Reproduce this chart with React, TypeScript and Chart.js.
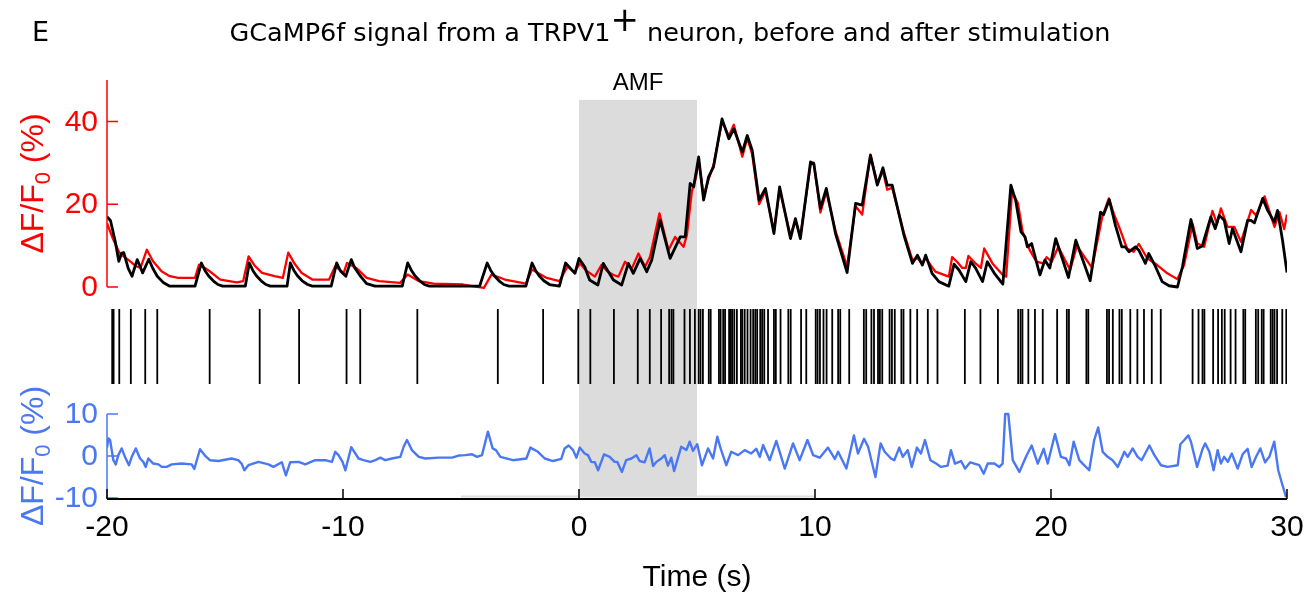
import React, { useEffect, useRef } from "react";
import { Chart, registerables } from "chart.js";
Chart.register(...registerables);

// ---- axis ticks ----
const xTicks = [-20, -10, 0, 10, 20, 30];
const topTicks = [0, 20, 40];
const bottomTicks = [10, 0, -10];

// ---- stimulation window (s) and the faint baseline bar ----
const stimWindow = [0, 5];
const baselineBarT = [-5, 10];
const baselineBarV = [-9.65, -9.65];

// ---- black trace (top panel) ----
const blackT = [
  -20, -19.85, -19.65, -19.5, -19.38, -19.29, -19.1, -18.94, -18.72, -18.6, -18.49, -18.23, -18.05,
  -17.87, -17.6, -17.34,
  -16.27, -16.0, -15.85, -15.7, -15.5, -15.3, -15.1,
  -14.14, -13.97, -13.82, -13.67, -13.47, -13.27, -13.08,
  -12.37, -12.23, -12.08, -11.93, -11.73, -11.5, -11.3,
  -10.5, -10.27, -10.1, -9.88, -9.65, -9.5, -9.26, -9.0, -8.64,
  -7.49, -7.26, -7.1, -6.95, -6.75, -6.55, -6.34,
  -4.21, -3.89, -3.74, -3.59, -3.39, -3.19, -2.96,
  -2.25, -1.99, -1.84, -1.69, -1.49, -1.25, -0.83,
  -0.57, -0.17, 0.0, 0.24, 0.45,
  0.8, 1.03, 1.46, 1.81, 2.09, 2.3, 2.59, 2.87, 3.08, 3.44, 3.86, 4.29, 4.5, 4.71, 4.86, 5.07, 5.28,
  5.49, 5.7, 6.06, 6.35, 6.56, 6.92, 7.13, 7.34, 7.63, 7.9, 8.26, 8.5, 8.96, 9.17, 9.38, 9.81, 9.95,
  10.23, 10.48, 10.87, 11.36, 11.72, 12.0, 12.35, 12.64, 12.88, 13.06, 13.27, 13.77, 14.13, 14.34,
  14.55, 14.69, 14.96, 15.25, 15.67, 15.89, 16.1, 16.39, 16.6, 16.8, 17.1, 17.3, 17.6, 17.96, 18.3,
  18.5, 18.73, 18.9, 19.0, 19.18, 19.53, 19.74, 19.95, 20.2, 20.74, 21.05, 21.66, 22.1, 22.23, 22.47,
  22.73, 23.0, 23.15, 23.3, 23.58, 23.72, 24.0, 24.14, 24.43, 24.71, 25.0, 25.36, 25.57, 25.93, 26.2,
  26.41, 26.77, 26.96, 27.13, 27.34, 27.55, 27.69, 28.05, 28.33, 28.47, 28.62, 28.97, 29.18, 29.46,
  29.6, 29.81, 30.0,
];
const blackV = [
  17.0, 16.0, 11.0, 6.2, 8.2, 8.3, 4.5, 2.6, 6.6, 5.0, 3.4, 6.7, 4.4,
  2.6, 1.0, 0.2,
  0.2, 5.8, 4.0, 2.7, 1.5, 0.6, 0.2,
  0.2, 5.8, 4.0, 2.7, 1.5, 0.6, 0.2,
  0.2, 5.8, 4.0, 2.7, 1.5, 0.6, 0.2,
  0.2, 5.8, 3.8, 2.6, 6.6, 4.6, 2.6, 0.8, 0.2,
  0.2, 5.8, 4.0, 2.7, 1.5, 0.6, 0.2,
  0.2, 5.8, 4.0, 2.7, 1.5, 0.6, 0.2,
  0.2, 5.8, 4.0, 2.7, 1.5, 0.6, 0.2,
  5.8, 3.3, 6.9, 4.9, 1.7,
  0.5, 5.7, 1.7, 0.5, 5.7, 3.3, 6.9, 3.7, 6.5, 16.1, 6.9, 12.1, 12.1, 25.0, 24.2, 31.4, 21.0,
  26.6, 29.0, 40.6, 35.8, 38.2, 32.6, 36.6, 33.0, 21.0, 23.8, 12.9, 24.2, 11.7, 16.5, 11.7, 30.2, 29.8,
  19.0, 23.8, 12.9, 3.5, 20.2, 19.8, 31.8, 24.6, 28.8, 24.6, 24.6, 12.5, 5.7, 7.7,
  5.3, 7.7, 3.3, 1.3, 0.2, 5.5, 4.1, 1.3, 6.1, 4.6, 1.3, 6.1, 3.3, 0.7, 24.6,
  21.0, 13.3, 12.1, 9.7, 10.5, 2.9, 6.5, 4.6, 11.7, 2.3, 11.3, 1.5, 18.1, 17.5, 21.1,
  14.9, 9.7, 9.7, 8.5, 9.7, 8.9, 5.7, 8.1, 4.9, 1.3, 0.3, 0.0, 4.9, 16.3, 9.3,
  9.9, 16.9, 14.1, 17.3, 16.1, 10.5, 14.1, 8.5, 16.1, 16.1, 15.5, 21.4, 18.5, 15.7,
  18.5, 11.3, 3.5,
];

// ---- red trace (top panel) ----
const redT = [
  -20, -19.73, -19.47, -19.11, -18.76, -18.58, -18.31, -18.05, -17.69, -17.34, -16.98, -16.27, -16.1,
  -15.85, -15.65, -15.2, -14.5, -14.23, -14.0, -13.75, -13.43, -12.9, -12.55, -12.32, -12.05, -11.75,
  -11.3, -10.59, -10.33, -9.97, -9.83, -9.44, -9.0, -8.47, -7.58, -7.26, -6.78, -6.16, -4.92, -4.03,
  -3.71, -3.14, -2.25, -1.99, -1.37, -0.83, -0.48, -0.2, 0.04, 0.3, 0.67, 0.95, 1.2, 1.46, 1.67, 1.95,
  2.24, 2.52, 2.8, 3.01, 3.41, 3.79, 4.07, 4.43, 4.57, 4.78, 4.96, 5.07, 5.28, 5.49, 5.7, 6.06, 6.35,
  6.56, 6.92, 7.13, 7.34, 7.63, 7.9, 8.26, 8.5, 8.96, 9.17, 9.38, 9.81, 9.95, 10.23, 10.48, 10.87,
  11.36, 11.72, 12.0, 12.35, 12.64, 12.88, 13.06, 13.27, 13.77, 14.13, 14.34, 14.55, 14.68, 15.1,
  15.67, 15.81, 16.02, 16.24, 16.39, 16.5, 16.8, 17.03, 17.17, 17.52, 17.96, 18.1, 18.35, 18.6, 18.8,
  19.1, 19.38, 19.67, 19.81, 20.03, 20.31, 20.81, 21.1, 21.74, 22.17, 22.45, 22.66, 22.94, 23.22,
  23.5, 23.72, 24.07, 24.5, 24.93, 25.35, 25.64, 26.0, 26.2, 26.49, 26.84, 27.03, 27.2, 27.48, 27.77,
  28.05, 28.48, 28.69, 29.05, 29.47, 29.68, 29.88, 30.0,
];
const redV = [
  15.4, 11.4, 8.2, 6.6, 5.0, 4.6, 9.0, 6.2, 3.8, 2.6, 2.2, 2.2, 5.4,
  4.6, 3.8, 1.8, 1.1, 1.4, 7.4, 5.2, 3.4, 2.6, 2.2, 8.3, 5.6, 3.4,
  1.8, 1.8, 5.0, 3.4, 5.8, 4.6, 2.2, 1.4, 1.0, 3.0, 1.4, 0.8, 0.6, -0.2,
  3.0, 1.8, 0.8, 4.2, 2.2, 1.4, 5.0, 3.5, 5.7, 4.0, 2.5, 5.3, 3.8, 2.9, 2.5, 6.1,
  4.5, 8.1, 4.9, 7.3, 17.8, 8.9, 12.1, 9.7, 12.5, 23.0, 26.6, 30.5, 22.0, 26.0, 29.5, 40.0, 36.5,
  39.2, 31.5, 36.0, 32.0, 20.0, 23.2, 13.5, 23.5, 12.5, 16.0, 12.2, 29.5, 30.0, 18.0, 23.0, 13.5,
  5.0, 19.5, 17.5, 32.0, 25.0, 28.0, 23.5, 24.0, 13.0, 6.5, 7.0, 5.5, 7.0, 3.7,
  2.5, 7.2, 6.1, 4.6, 4.6, 7.5, 5.7, 4.6, 9.3, 5.7, 2.9, 2.5, 23.0, 20.2, 13.3,
  8.9, 6.1, 5.7, 7.2, 6.1, 9.7, 4.1, 9.9, 4.6, 16.9, 21.4, 17.7, 13.7, 9.3,
  8.5, 10.4, 7.0, 5.3, 3.3, 1.9, 5.3, 15.3, 10.5, 9.7, 18.4, 15.3, 19.0, 14.5, 14.5,
  10.9, 18.6, 17.3, 21.9, 14.5, 18.1, 14.0, 17.5,
];

// ---- blue trace (bottom panel) ----
const blueT = [
  -20, -19.94, -19.87, -19.73, -19.63, -19.52, -19.38, -19.24, -19.07, -18.95, -18.78, -18.6, -18.46,
  -18.36, -18.25, -18.04, -17.82, -17.68, -17.47, -17.26, -16.84, -16.41, -16.3, -16.06, -15.85,
  -15.64, -15.28, -14.72, -14.44, -14.3, -14.18, -14.01, -13.58, -13.16, -12.95, -12.59, -12.42,
  -12.24, -11.88, -11.6, -11.18, -10.75, -10.47, -10.33, -10.19, -10.02, -9.9, -9.65, -9.34, -9.13,
  -8.84, -8.63, -8.42, -8.21, -7.93, -7.57, -7.43, -7.29, -7.08, -6.79, -6.51, -5.95, -5.38, -5.1,
  -4.82, -4.53, -4.32, -4.11, -3.86, -3.66, -3.52, -3.33, -2.8, -2.23, -2.06, -1.74, -1.45, -1.1,
  -0.75, -0.61, -0.44, -0.25, -0.11, 0.03, 0.24, 0.38, 0.52, 0.67, 0.81, 1.06, 1.3, 1.51, 1.62, 1.82,
  2.0, 2.22, 2.43, 2.57, 2.78, 2.99, 3.14, 3.28, 3.49, 3.63, 3.77, 3.91, 4.03, 4.33, 4.55, 4.69, 4.83,
  5.01, 5.21, 5.47, 5.68, 5.86, 6.0, 6.24, 6.45, 6.74, 7.02, 7.3, 7.51, 7.66, 7.8, 8.08, 8.36, 8.72,
  9.07, 9.35, 9.68, 9.92, 10.2, 10.55, 10.84, 10.98, 11.33, 11.65, 11.82, 12.08, 12.25, 12.56, 12.78,
  12.95, 13.22, 13.36, 13.57, 13.72, 13.93, 14.1, 14.32, 14.49, 14.66, 14.89, 15.13, 15.34, 15.62,
  15.76, 15.93, 16.19, 16.36, 16.58, 16.96, 17.15, 17.32, 17.6, 17.81, 17.95, 18.06, 18.19, 18.38,
  18.66, 18.94, 19.18, 19.44, 19.69, 19.86, 20.17, 20.42, 20.64, 20.78, 20.96, 21.2, 21.34, 21.62,
  21.83, 22.0, 22.19, 22.4, 22.61, 22.83, 23.11, 23.25, 23.46, 23.67, 23.84, 24.17, 24.38, 24.66,
  24.94, 25.37, 25.48, 25.65, 25.82, 25.93, 26.19, 26.43, 26.53, 26.71, 26.89, 27.06, 27.2, 27.34,
  27.49, 27.66, 27.91, 28.12, 28.33, 28.5, 28.69, 28.87, 29.07, 29.25, 29.46, 29.63, 29.77, 29.96,
];
const blueV = [
  2.0, 4.2, 3.8, -1.0, -2.0, 0.2, 1.8, -0.2, -2.2, -0.2, 1.8, -0.6, -1.4,
  -2.6, -0.6, -1.8, -2.0, -2.6, -2.6, -2.0, -1.8, -2.0, -3.1, 1.6, 0.1,
  -1.0, -1.2, -0.6, -1.0, -1.8, -3.4, -2.2, -1.4, -2.0, -2.6, -1.5, -4.6,
  -1.5, -1.4, -2.0, -1.0, -1.0, -1.4, 1.0, 0.2, -1.4, -3.4, 2.1, -0.6, -1.0,
  -1.4, -1.0, -0.4, -1.0, -0.6, -0.2, 2.2, 3.8, 1.4, -0.2, -0.6, -0.4, -0.4, 0.1,
  0.2, 0.4, -0.2, 0.2, 5.8, 1.8, 1.4, -0.2, -1.0, -0.6, 2.0, 1.0, -0.6, -1.2,
  -0.7, 1.8, 2.5, 1.4, -0.4, 2.0, 0.6, 0.2, -1.4, -1.5, -3.4, 0.4, -0.2, -1.4, -1.4, -3.8,
  -1.0, -0.6, 0.2, -1.2, -1.5, 1.8, -2.4, -1.4, -0.6, 0.2, -2.3, -0.4, -3.6, 2.2, 1.4, 3.4, 1.2,
  2.8, -2.2, 1.8, -0.6, 4.6, 1.8, -2.2, 1.0, 0.2, 1.4, 0.6, 1.7, -0.2, 2.6, -1.0, 3.6, -3.0,
  3.0, -1.0, 3.8, 0.2, -0.4, 2.0, -0.7, 1.0, -3.0, 4.9, 0.6, 4.1, 2.2, -5.0, 3.0,
  1.0, -0.6, -1.0, 2.0, -0.2, 1.4, -2.6, 2.0, 0.6, 3.8, -1.0, -1.8, -2.6, -2.3,
  1.4, -1.8, -1.2, -3.0, -1.5, -2.2, -4.2, -1.8, -1.8, -2.6, -1.8, 10.0, 10.0, -1.0,
  -3.8, -0.2, 2.5, -1.8, 1.7, -1.8, 5.2, -0.2, -0.6, -2.2, 3.4, -1.0, -1.8, -3.4,
  3.8, 6.8, 1.0, -0.2, -1.0, -2.6, 1.0, -0.2, 1.8, -0.2, -1.0, 2.5, 0.2, -2.2,
  -2.6, -2.2, 2.8, 3.8, 4.9, 3.4, -2.6, 1.8, 3.0, 1.0, -3.4, 1.4, -1.8, -0.2,
  -1.4, 0.6, -3.0, 0.4, 1.7, -2.6, -0.2, 1.8, -1.5, -0.2, 3.4, -3.4, -6.2, -9.8,
];

// ---- spike raster (s) ----
const spikeTimes = [
  -19.78, -19.72, -19.48, -18.99, -18.38, -17.87, -15.65, -13.53, -11.86, -9.85, -9.27, -6.85, -3.44,
  -1.52, -0.03, 0.48, 1.48, 2.49, 3.0, 3.48, 3.82, 3.92, 4.0, 4.47, 4.7, 4.91, 5.07, 5.15, 5.25, 5.5,
  5.58, 5.93, 6.0, 6.11, 6.19, 6.36, 6.43, 6.49, 6.58, 6.69, 6.86, 6.92, 7.02, 7.14, 7.27, 7.38, 7.47,
  7.55, 7.68, 7.76, 7.85, 8.01, 8.26, 8.34, 8.54, 8.87, 8.97, 9.41, 9.63, 10.03, 10.11, 10.21, 10.36,
  10.49, 10.73, 10.98, 11.07, 11.45, 12.07, 12.17, 12.39, 12.5, 12.67, 12.75, 12.85, 13.16, 13.26,
  13.38, 13.66, 13.75, 14.04, 14.33, 14.78, 15.19, 16.35, 17.01, 17.75, 18.61, 18.71, 18.79, 19.04,
  19.32, 19.65, 20.26, 20.67, 20.76, 21.5, 21.58, 22.37, 22.46, 22.62, 22.9, 23.0, 23.36, 23.66,
  23.94, 24.27, 24.65, 26.0, 26.25, 26.42, 26.5, 26.87, 27.08, 27.24, 27.36, 27.61, 27.82, 28.15,
  28.23, 28.68, 28.78, 28.93, 29.01, 29.31, 29.39, 29.47, 29.58, 29.8, 29.97,
];

const RED = "#ff0000";
const BLUE = "#4a78f2";
const SANS = '"Liberation Sans", Arial, Helvetica, sans-serif';
const VERD = '"DejaVu Sans", Verdana, sans-serif';

const pts = (t: number[], v: number[]) => t.map((x, i) => ({ x, y: v[i] }));

function drawDeltaLabel(ctx: CanvasRenderingContext2D, cx: number, cy: number, color: string, size: number) {
  ctx.save();
  ctx.translate(cx, cy);
  ctx.rotate(-Math.PI / 2);
  const main = `${size}px ${SANS}`;
  const sub = `${Math.round(size * 0.7)}px ${SANS}`;
  ctx.font = main;
  const a = "\u0394F/F";
  const c = " (%)";
  const wa = ctx.measureText(a).width;
  const wc = ctx.measureText(c).width;
  ctx.font = sub;
  const b = "0";
  const wb = ctx.measureText(b).width;
  const total = wa + wb + wc;
  let x = -total / 2;
  ctx.fillStyle = color;
  ctx.textBaseline = "alphabetic";
  ctx.textAlign = "left";
  const base = size * 0.36;
  ctx.font = main;
  ctx.fillText(a, x, base);
  x += wa;
  ctx.font = sub;
  ctx.fillText(b, x, base + size * 0.22);
  x += wb;
  ctx.font = main;
  ctx.fillText(c, x, base);
  ctx.restore();
}

const decor = {
  id: "decor",
  beforeDatasetsDraw(chart: any) {
    const { ctx, scales } = chart;
    const x = scales.x;
    const yT = scales.yTop;
    const yB = scales.yBot;
    ctx.save();
    ctx.fillStyle = "#dcdcdc";
    const x0 = x.getPixelForValue(stimWindow[0]);
    const x1 = x.getPixelForValue(stimWindow[1]);
    const top = yT.getPixelForValue(45.2);
    const bot = yB.getPixelForValue(-9.7);
    ctx.fillRect(x0, top, x1 - x0, bot - top);
    ctx.restore();
  },
  afterDraw(chart: any) {
    const { ctx, scales } = chart;
    const x = scales.x;
    const yT = scales.yTop;
    const yB = scales.yBot;
    const xl = x.getPixelForValue(-20);
    ctx.save();
    // top (red) axis
    ctx.strokeStyle = RED;
    ctx.lineWidth = 1.5;
    ctx.beginPath();
    ctx.moveTo(xl, yT.getPixelForValue(0));
    ctx.lineTo(xl, yT.getPixelForValue(50));
    topTicks.forEach((v) => {
      const p = yT.getPixelForValue(v);
      ctx.moveTo(xl, p);
      ctx.lineTo(xl + 11, p);
    });
    ctx.stroke();
    ctx.fillStyle = RED;
    ctx.font = `30px ${SANS}`;
    ctx.textAlign = "right";
    ctx.textBaseline = "middle";
    topTicks.forEach((v) => ctx.fillText(String(v), xl - 9, yT.getPixelForValue(v) + 1));
    // bottom (blue) axis
    ctx.strokeStyle = BLUE;
    ctx.beginPath();
    ctx.moveTo(xl, yB.getPixelForValue(-10));
    ctx.lineTo(xl, yB.getPixelForValue(10));
    bottomTicks.forEach((v) => {
      const p = yB.getPixelForValue(v);
      ctx.moveTo(xl, p);
      ctx.lineTo(xl + 11, p);
    });
    ctx.stroke();
    ctx.fillStyle = BLUE;
    bottomTicks.forEach((v) => ctx.fillText(String(v), xl - 9, yB.getPixelForValue(v) + 1));
    // x axis
    const xb = chart.chartArea.bottom;
    ctx.strokeStyle = "#000";
    ctx.lineWidth = 2;
    ctx.beginPath();
    ctx.moveTo(x.getPixelForValue(-20), xb);
    ctx.lineTo(x.getPixelForValue(30), xb);
    ctx.stroke();
    ctx.lineWidth = 1.5;
    ctx.beginPath();
    xTicks.forEach((t) => {
      const p = x.getPixelForValue(t);
      ctx.moveTo(p, xb);
      ctx.lineTo(p, xb - 10);
    });
    ctx.stroke();
    ctx.fillStyle = "#000";
    ctx.textAlign = "center";
    ctx.textBaseline = "middle";
    xTicks.forEach((t) => ctx.fillText(String(t), x.getPixelForValue(t), xb + 29));
    ctx.fillText("Time (s)", (x.left + x.right) / 2, xb + 79);
    // AMF label
    ctx.font = `24px ${SANS}`;
    ctx.fillText("AMF", x.getPixelForValue((stimWindow[0] + stimWindow[1]) / 2), 83);
    // y titles
    drawDeltaLabel(ctx, 31, (yT.getPixelForValue(0) + yT.getPixelForValue(50)) / 2, RED, 32);
    drawDeltaLabel(ctx, 31, yB.getPixelForValue(0), BLUE, 32);
    // panel letter & title
    ctx.fillStyle = "#000";
    ctx.textAlign = "left";
    ctx.textBaseline = "alphabetic";
    ctx.font = `27px ${VERD}`;
    ctx.fillText("E", 32, 41);
    const t1 = "GCaMP6f signal from a TRPV1";
    const t2 = "+";
    const t3 = " neuron, before and after stimulation";
    const fs = 25.5;
    ctx.font = `${fs}px ${VERD}`;
    const w1 = ctx.measureText(t1).width;
    const w3 = ctx.measureText(t3).width;
    ctx.font = `34px ${VERD}`;
    const w2 = ctx.measureText(t2).width;
    const start = 670 - (w1 + w2 + w3) / 2;
    ctx.font = `${fs}px ${VERD}`;
    ctx.fillText(t1, start, 41);
    ctx.font = `34px ${VERD}`;
    ctx.fillText(t2, start + w1, 31);
    ctx.font = `${fs}px ${VERD}`;
    ctx.fillText(t3, start + w1 + w2, 41);
    ctx.restore();
  },
};

export default function App() {
  const ref = useRef<HTMLCanvasElement | null>(null);
  useEffect(() => {
    if (!ref.current) return;
    const chart = new Chart(ref.current, {
      type: "line",
      data: {
        datasets: [
          {
            label: "black",
            data: pts(blackT, blackV),
            yAxisID: "yTop",
            borderColor: "#000",
            borderWidth: 2.8,
            pointRadius: 0,
            tension: 0,
            borderJoinStyle: "round",
            order: 1,
          },
          {
            label: "red",
            data: pts(redT, redV),
            yAxisID: "yTop",
            borderColor: RED,
            borderWidth: 2.3,
            pointRadius: 0,
            tension: 0,
            borderJoinStyle: "round",
            order: 2,
          },
          {
            label: "spikes",
            type: "scatter",
            data: spikeTimes.map((t) => ({ x: t, y: 0 })),
            yAxisID: "yRaster",
            pointStyle: "line",
            rotation: 90,
            radius: 37.5,
            borderColor: "#000",
            borderWidth: 1.8,
            showLine: false,
            order: 3,
          } as any,
          {
            label: "blue",
            data: pts(blueT, blueV),
            yAxisID: "yBot",
            borderColor: BLUE,
            borderWidth: 2.4,
            pointRadius: 0,
            tension: 0,
            borderJoinStyle: "round",
            order: 4,
          },
          {
            label: "baseline",
            data: pts(baselineBarT, baselineBarV),
            yAxisID: "yBot",
            borderColor: "#dedede",
            borderWidth: 2,
            pointRadius: 0,
            order: 10,
          },
        ],
      },
      options: {
        responsive: false,
        animation: false,
        layout: { autoPadding: false, padding: { left: 107, right: 24, top: 80, bottom: 95 } },
        plugins: { legend: { display: false }, title: { display: false }, tooltip: { enabled: false } },
        scales: {
          x: { type: "linear", min: -20, max: 30, display: false },
          yTop: { type: "linear", min: -51.21, max: 50, display: false },
          yRaster: { type: "linear", min: -152.5, max: 266.5, display: false },
          yBot: { type: "linear", min: -10.24, max: 89.52, display: false },
        },
      },
      plugins: [decor],
    });
    return () => chart.destroy();
  }, []);
  return (
    <div style={{ position: "fixed", left: 0, top: 0, width: 1311, height: 594, background: "#fff" }}>
      <canvas ref={ref} width={1311} height={594} />
    </div>
  );
}
